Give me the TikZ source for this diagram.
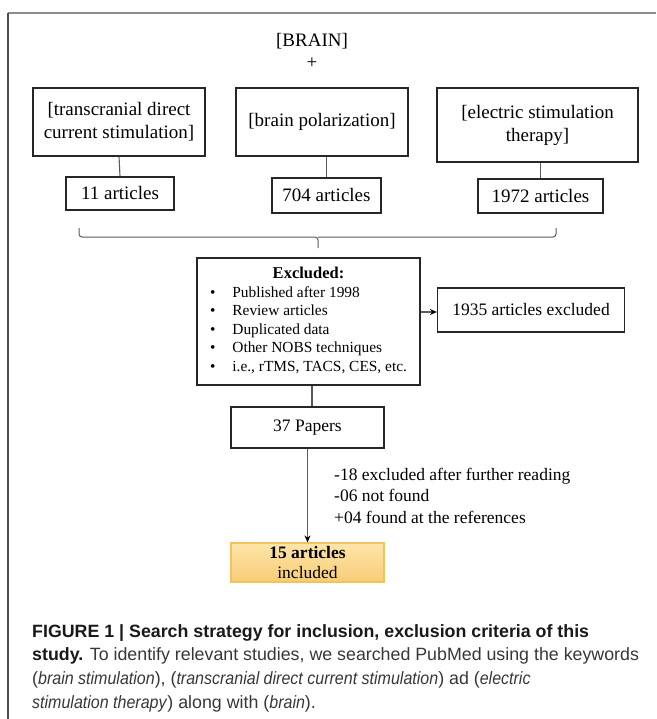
\documentclass[tikz,border=0pt]{standalone}
\usepackage{fontspec}
\setmainfont{Liberation Serif}
\newfontfamily\capfont{Liberation Sans}[ItalicFeatures={FakeStretch=0.9}]
\usetikzlibrary{arrows.meta,calc,positioning}
\definecolor{frgray}{RGB}{140,140,140}
\definecolor{lngray}{RGB}{90,90,90}
\definecolor{inctop}{RGB}{253,229,170}
\definecolor{incbot}{RGB}{248,204,118}
\definecolor{incedge}{RGB}{240,196,92}
\definecolor{captxt}{RGB}{55,55,55}
\begin{document}
\begin{tikzpicture}[x=1pt,y=-1pt,
  box/.style={draw=black!85,line width=1.2pt,align=center,inner sep=0pt},
  big/.style={font=\fontsize{19}{23}\selectfont},
  mid/.style={font=\fontsize{17.5}{21.5}\selectfont},
  link/.style={draw=lngray,line width=1.1pt},
  arr/.style={link,-{Stealth[length=7pt,width=6pt,black]}}]
  \useasboundingbox (0,0) rectangle (656,719);
  % frame
  \draw[frgray,line width=2pt] (8,13) -- (656,13);
  \draw[black!70,line width=1.5pt] (8,13) -- (8,719);
  % search terms
  \node[big] (brain) at (312,41) {[BRAIN]};
  \node[big] (plus) at (312,63) {+};
  \node[box,big,minimum width=172,minimum height=68] (tdcs) at (119,122) {[transcranial direct\\current stimulation]};
  \node[box,big,minimum width=172,minimum height=68] (polar) at (322,122) {[brain polarization]};
  \node[box,big,minimum width=201,minimum height=74] (est) at (537.5,125) {[electric stimulation\\therapy]};
  \node[box,big,minimum width=108,minimum height=33] (n11) at (120,193.5) {11 articles};
  \node[box,big,minimum width=109,minimum height=35] (n704) at (326.5,195.5) {704 articles};
  \node[box,big,minimum width=125,minimum height=34] (n1972) at (540.5,196) {1972 articles};
  \draw[link] (tdcs.south) -- (n11.north);
  \draw[link] (n704.north |- polar.south) -- (n704.north);
  \draw[link] (n1972.north |- est.south) -- (n1972.north);
  % brace
  \coordinate (bl) at (79,228);
  \coordinate (br) at (556,228);
  \coordinate (btip) at (318,248);
  \draw[link,line width=1pt,rounded corners=3pt] (bl) |- (btip |- 0,237) -- (btip);
  \draw[link,line width=1pt,rounded corners=3pt] (br) |- (btip |- 0,237);
  % screening
  \node[box,minimum width=223,minimum height=127] (excl) at (308.5,321.5) {%
    \fontsize{15.4}{18.5}\selectfont
    \begin{tabular}{@{}l@{\hspace{17pt}}l@{}}
      \multicolumn{2}{c}{\fontsize{16.5}{18.5}\selectfont\bfseries Excluded:}\\
      \textbullet & Published after 1998\\
      \textbullet & Review articles\\
      \textbullet & Duplicated data\\
      \textbullet & Other NOBS techniques\\
      \textbullet & i.e., rTMS, TACS, CES, etc.
    \end{tabular}};
  \node[box,mid,minimum width=187,minimum height=44] (n1935) at (531,310) {1935 articles excluded};
  \draw[arr] (excl.east |- 0,312) -- (n1935.west |- 0,312);
  \node[box,mid,minimum width=153,minimum height=41] (papers) at (307.5,427.5) {37 Papers};
  \draw[link] (excl.south -| 312,0) -- (papers.north -| 312,0);
  \node[mid,anchor=west,align=left,inner sep=0pt] (reading) at (334,495.5) {-18 excluded after further reading\\-06 not found\\+04 found at the references};
  \node[box,mid,draw=incedge,top color=inctop,bottom color=incbot,minimum width=153,minimum height=39,font=\fontsize{17.5}{20}\selectfont] (incl) at (307.5,562.5) {\textbf{15 articles}\\included};
  \draw[arr] (papers.south) -- (incl.north);
  % caption
  \node[anchor=north west,inner sep=0pt,align=left,text=captxt,font=\capfont\fontsize{17.8}{23.7}\selectfont] (cap) at (32,624) {%
    {\color{black!90}\bfseries FIGURE 1 | Search strategy for inclusion, exclusion criteria of this}\\
    {\color{black!90}\bfseries study.} To identify relevant studies, we searched PubMed using the keywords\\
    (\textit{brain stimulation}), (\textit{transcranial direct current stimulation}) ad (\textit{electric}\\
    \textit{stimulation therapy}) along with (\textit{brain}).};
\end{tikzpicture}
\end{document}
